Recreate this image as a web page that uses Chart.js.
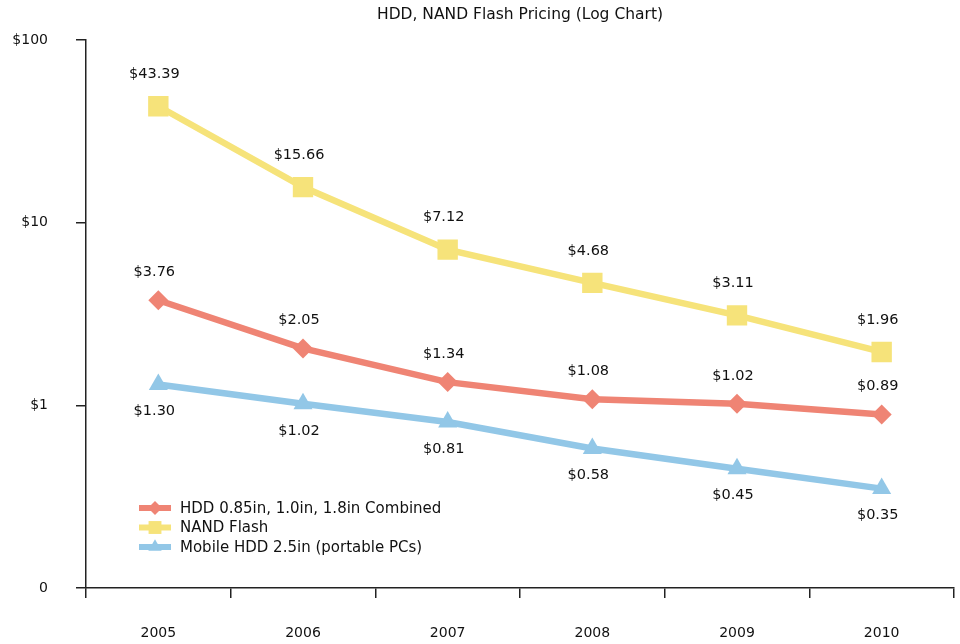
<!DOCTYPE html>
<html>
<head>
<meta charset="utf-8">
<script src="https://cdn.jsdelivr.net/npm/chart.js@4"></script>
<style>
html,body{margin:0;padding:0;background:#fff;}
#wrap{width:960px;height:644px;position:relative;}
</style>
</head>
<body>
<div id="wrap"><canvas id="c" width="960" height="644"></canvas></div>
<script>
const years = ['2005','2006','2007','2008','2009','2010'];
const hddSmall = [3.76, 2.05, 1.34, 1.08, 1.02, 0.89];
const nandFlash = [43.39, 15.66, 7.12, 4.68, 3.11, 1.96];
const mobileHdd = [1.30, 1.02, 0.81, 0.58, 0.45, 0.35];
const seriesNames = ['HDD 0.85in, 1.0in, 1.8in Combined', 'NAND Flash', 'Mobile HDD 2.5in (portable PCs)'];
const yTickValues = [0.1, 1, 10, 100];
const yTickLabels = ['0', '$1', '$10', '$100'];
const chartTitle = 'HDD, NAND Flash Pricing (Log Chart)';

const FONT = '"DejaVu Sans", sans-serif';
const RED = '#ef8474', YEL = '#f6e37a', BLU = '#92c7e7';

const labelPlugin = {
  id: 'valueLabels',
  afterDatasetsDraw(chart) {
    const ctx = chart.ctx;
    ctx.save();
    ctx.font = '14.5px ' + FONT;
    ctx.fillStyle = '#111';
    ctx.textAlign = 'center';
    ctx.textBaseline = 'middle';
    chart.data.datasets.forEach((ds, i) => {
      const meta = chart.getDatasetMeta(i);
      meta.data.forEach((pt, j) => {
        const v = ds.data[j];
        const txt = '$' + v.toFixed(2);
        const dy = ds.labelPos === 'below' ? 27 : (i === 1 ? -32 : -28);
        ctx.fillText(txt, pt.x - 4, pt.y + dy);
      });
    });
    ctx.restore();
  }
};

const legendPlugin = {
  id: 'innerLegend',
  afterDatasetsDraw(chart) {
    const ctx = chart.ctx;
    ctx.save();
    ctx.font = '15px ' + FONT;
    ctx.textBaseline = 'middle';
    ctx.textAlign = 'left';
    const x0 = 139, x1 = 171, yStart = 508, step = 19.5;
    chart.data.datasets.forEach((ds, i) => {
      const y = yStart + i * step;
      ctx.strokeStyle = ds.borderColor;
      ctx.lineWidth = 6;
      ctx.beginPath();
      ctx.moveTo(x0, y);
      ctx.lineTo(x1, y);
      ctx.stroke();
      ctx.fillStyle = ds.borderColor;
      Chart.helpers.drawPoint(ctx, {pointStyle: ds.pointStyle, radius: ds.pointRadius * 0.7, borderWidth: 0, rotation: 0}, (x0 + x1) / 2, y);
      ctx.fillStyle = '#111';
      ctx.fillText(seriesNames[i], 180, y + 1);
    });
    ctx.restore();
  }
};

new Chart(document.getElementById('c'), {
  type: 'line',
  data: {
    labels: years,
    datasets: [
      {label: seriesNames[0], data: hddSmall, borderColor: RED, backgroundColor: RED, pointStyle: 'rectRot', pointRadius: 10, pointHoverRadius: 10, borderWidth: 6.5, pointBorderWidth: 0, labelPos: 'above'},
      {label: seriesNames[1], data: nandFlash, borderColor: YEL, backgroundColor: YEL, pointStyle: 'rect', pointRadius: 13, pointHoverRadius: 13, borderWidth: 6.5, pointBorderWidth: 2, pointBorderColor: YEL, labelPos: 'above'},
      {label: seriesNames[2], data: mobileHdd, borderColor: BLU, backgroundColor: BLU, pointStyle: 'triangle', pointRadius: 11, pointHoverRadius: 11, borderWidth: 6.5, pointBorderWidth: 0, labelPos: 'below'}
    ]
  },
  options: {
    responsive: false,
    animation: false,
    layout: {autoPadding: false, padding: {left: 0, right: 6, top: 0, bottom: 0}},
    plugins: {
      legend: {display: false},
      tooltip: {enabled: false},
      title: {display: true, fullSize: false, text: chartTitle, color: '#111', font: {family: FONT, size: 15.5, weight: 'normal'}, padding: {top: 6, bottom: 15.4}}
    },
    scales: {
      x: {
        offset: true,
        grid: {display: true, offset: true, drawOnChartArea: false, drawTicks: true, tickLength: 10, color: '#222', lineWidth: 1.5},
        border: {display: true, color: '#222', width: 1.5},
        ticks: {color: '#111', font: {family: FONT, size: 14}, padding: 27, maxRotation: 0},
        afterFit(s) { s.height = 56; s.paddingLeft = 0; s.paddingRight = 0; }
      },
      y: {
        type: 'logarithmic',
        min: 0.1, max: 100,
        afterBuildTicks(s) { s.ticks = yTickValues.map(v => ({value: v})); },
        grid: {display: true, drawOnChartArea: false, drawTicks: true, tickLength: 10, color: '#222', lineWidth: 1.5},
        border: {display: true, color: '#222', width: 1.5},
        ticks: {color: '#111', font: {family: FONT, size: 14}, padding: 28,
          callback(v) { const i = yTickValues.indexOf(v); return i >= 0 ? yTickLabels[i] : ''; }},
        afterFit(s) { s.width = 86; s.paddingTop = 0; s.paddingBottom = 0; }
      }
    }
  },
  plugins: [labelPlugin, legendPlugin]
});
</script>
</body>
</html>
